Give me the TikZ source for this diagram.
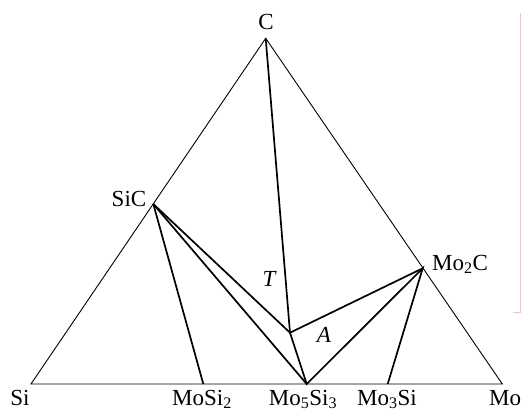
\documentclass[tikz,border=0pt]{standalone}
\usepackage{fontspec}
\setmainfont{Liberation Serif}
\begin{document}
\begin{tikzpicture}[x=1pt,y=-1pt,
  edge/.style={line width=0.9pt},
  tie/.style={line width=1.7pt, line join=miter},
  lbl/.style={inner sep=0pt, anchor=base, font=\fontsize{23}{27}\selectfont},
  framefaint/.style={draw=red!25, line width=0.8pt}]
\useasboundingbox (0,0) rectangle (523,412);
\clip (0,0) rectangle (523,412);
% vertices
\coordinate (C) at (265.7,38.3);
\coordinate (Si) at (31,384);
\coordinate (Mo) at (502.3,384);
\coordinate (SiC) at (153.3,204);
\coordinate (MoC) at (422.7,268.3);
\coordinate (MoSi2) at (203.3,384);
\coordinate (Mo5) at (306.7,384);
\coordinate (Mo3) at (387.7,384);
\coordinate (P) at (290,332.7);
% faint frame artifact
\coordinate (fa) at (520.5,13);
\coordinate (fb) at (520.5,312);
\coordinate (fc) at (513,312);
\draw[framefaint] (fa) -- (fb) -- (fc);
% triangle
\draw[edge] (Si) -- (C) -- (Mo) -- cycle;
% tie lines
\draw[tie] (C) -- (P);
\draw[tie] (SiC) -- (P) -- (MoC);
\draw[tie] (SiC) -- (Mo5);
\draw[tie] (SiC) -- (MoSi2);
\draw[tie] (P) -- (Mo5) -- (MoC) -- (Mo3);
% labels
\node[lbl] (lC) at (266,30) {C};
\node[lbl] (lSiC) at (129,206) {SiC};
\node[lbl, anchor=base west] (lMoC) at (432,270) {Mo\textsubscript{2}C};
\node[lbl] (lT) at (269,286) {\itshape T};
\node[lbl] (lA) at (324,342) {\itshape A};
\node[lbl] (lSi) at (20,405) {Si};
\node[lbl] (lMoSi2) at (202,405) {MoSi\textsubscript{2}};
\node[lbl] (lMo5) at (303,405) {Mo\textsubscript{5}Si\textsubscript{3}};
\node[lbl] (lMo3) at (387,405) {Mo\textsubscript{3}Si};
\node[lbl, anchor=base west] (lMo) at (489,405) {Mo};
\end{tikzpicture}
\end{document}
